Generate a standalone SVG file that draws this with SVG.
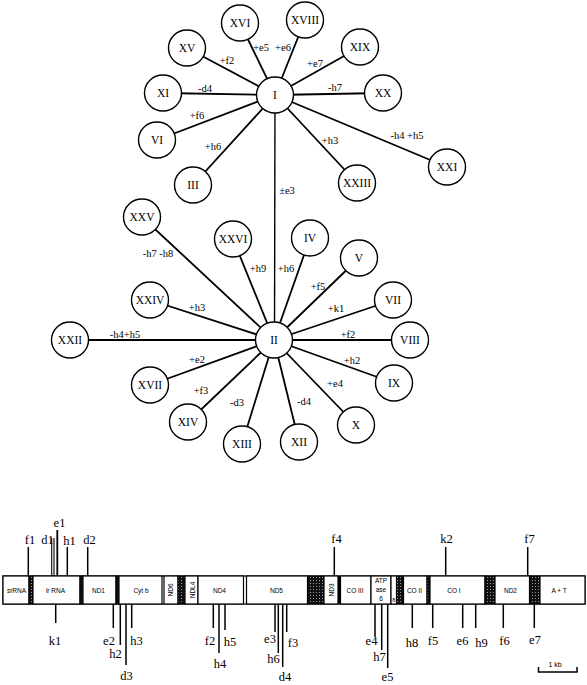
<svg xmlns="http://www.w3.org/2000/svg" width="587" height="685" viewBox="0 0 587 685">
<style>
.edge{stroke:#000;stroke-width:1.8;fill:none}
.node ellipse{fill:#fff;stroke:#000;stroke-width:1.4}
.nl{font-family:"Liberation Serif",serif;font-size:11.5px;text-anchor:middle;fill:#000}
.el{font-family:"Liberation Serif",serif;font-size:10.5px;text-anchor:middle;fill:#000}
.box{fill:#fff;stroke:#000;stroke-width:1.2}
.band{fill:url(#stip);stroke:#000;stroke-width:1}
.gl{font-family:"Liberation Sans",sans-serif;font-size:6.5px;text-anchor:middle;fill:#000}
.tick{stroke:#000;stroke-width:1.5}
.tl{font-family:"Liberation Serif",serif;font-size:12.5px;text-anchor:middle;fill:#000}
</style>
<defs>
<pattern id="stip" width="3" height="3" patternUnits="userSpaceOnUse">
<rect width="3" height="3" fill="#111"/>
<rect x="1" y="1" width="0.9" height="0.9" fill="#bbb"/>
</pattern>
</defs>
<g id="connectors">
<line class="edge" x1="275" y1="95" x2="240" y2="23"/>
<line class="edge" x1="275" y1="95" x2="305" y2="20"/>
<line class="edge" x1="275" y1="95" x2="187" y2="48"/>
<line class="edge" x1="275" y1="95" x2="360" y2="47"/>
<line class="edge" x1="275" y1="95" x2="163" y2="93"/>
<line class="edge" x1="275" y1="95" x2="383" y2="93"/>
<line class="edge" x1="275" y1="95" x2="157" y2="140"/>
<line class="edge" x1="275" y1="95" x2="193" y2="185"/>
<line class="edge" x1="275" y1="95" x2="357" y2="183"/>
<line class="edge" x1="275" y1="95" x2="447" y2="167"/>
<line class="edge" x1="275" y1="95" x2="274.5" y2="340" style="stroke-width:1.4"/>
<line class="edge" x1="274" y1="340" x2="142" y2="217"/>
<line class="edge" x1="274" y1="340" x2="233" y2="239"/>
<line class="edge" x1="274" y1="340" x2="310" y2="238"/>
<line class="edge" x1="274" y1="340" x2="359" y2="258"/>
<line class="edge" x1="274" y1="340" x2="393" y2="300"/>
<line class="edge" x1="274" y1="340" x2="150" y2="300"/>
<line class="edge" x1="274" y1="340" x2="70" y2="340"/>
<line class="edge" x1="274" y1="340" x2="410" y2="340"/>
<line class="edge" x1="274" y1="340" x2="394" y2="383"/>
<line class="edge" x1="274" y1="340" x2="150" y2="385"/>
<line class="edge" x1="274" y1="340" x2="188" y2="422"/>
<line class="edge" x1="274" y1="340" x2="356" y2="425"/>
<line class="edge" x1="274" y1="340" x2="242" y2="444"/>
<line class="edge" x1="274" y1="340" x2="299" y2="442"/>
</g>
<g id="edge-labels">
<text class="el" x="227" y="64">+f2</text>
<text class="el" x="261" y="50.5">+e5</text>
<text class="el" x="283" y="50.5">+e6</text>
<text class="el" x="315" y="67">+e7</text>
<text class="el" x="205" y="92">-d4</text>
<text class="el" x="335" y="91">-h7</text>
<text class="el" x="197" y="119">+f6</text>
<text class="el" x="213" y="149.5">+h6</text>
<text class="el" x="330" y="144">+h3</text>
<text class="el" x="407" y="139">-h4 +h5</text>
<text class="el" x="287" y="194">±e3</text>
<text class="el" x="158" y="257">-h7 -h8</text>
<text class="el" x="258" y="271.5">+h9</text>
<text class="el" x="286" y="271.5">+h6</text>
<text class="el" x="318" y="290">+f5</text>
<text class="el" x="336" y="312">+k1</text>
<text class="el" x="197" y="310.5">+h3</text>
<text class="el" x="125" y="338">-h4+h5</text>
<text class="el" x="348" y="338">+f2</text>
<text class="el" x="352" y="364">+h2</text>
<text class="el" x="197" y="363">+e2</text>
<text class="el" x="335" y="386.5">+e4</text>
<text class="el" x="201" y="394">+f3</text>
<text class="el" x="237" y="406">-d3</text>
<text class="el" x="304" y="404.5">-d4</text>
</g>
<g id="node-I" class="node"><ellipse cx="275" cy="95" rx="18.5" ry="18"/><text class="nl" x="275" y="99">I</text></g>
<g id="node-XVI" class="node"><ellipse cx="240" cy="23" rx="18.5" ry="18"/><text class="nl" x="240" y="27">XVI</text></g>
<g id="node-XVIII" class="node"><ellipse cx="305" cy="20" rx="18.5" ry="18"/><text class="nl" x="305" y="24">XVIII</text></g>
<g id="node-XV" class="node"><ellipse cx="187" cy="48" rx="18.5" ry="18"/><text class="nl" x="187" y="52">XV</text></g>
<g id="node-XIX" class="node"><ellipse cx="360" cy="47" rx="18.5" ry="18"/><text class="nl" x="360" y="51">XIX</text></g>
<g id="node-XI" class="node"><ellipse cx="163" cy="93" rx="18.5" ry="18"/><text class="nl" x="163" y="97">XI</text></g>
<g id="node-XX" class="node"><ellipse cx="383" cy="93" rx="18.5" ry="18"/><text class="nl" x="383" y="97">XX</text></g>
<g id="node-VI" class="node"><ellipse cx="157" cy="140" rx="18.5" ry="18"/><text class="nl" x="157" y="144">VI</text></g>
<g id="node-III" class="node"><ellipse cx="193" cy="185" rx="18.5" ry="18"/><text class="nl" x="193" y="189">III</text></g>
<g id="node-XXIII" class="node"><ellipse cx="357" cy="183" rx="18.5" ry="18"/><text class="nl" x="357" y="187">XXIII</text></g>
<g id="node-XXI" class="node"><ellipse cx="447" cy="167" rx="18.5" ry="18"/><text class="nl" x="447" y="171">XXI</text></g>
<g id="node-II" class="node"><ellipse cx="274" cy="340" rx="18.5" ry="18"/><text class="nl" x="274" y="344">II</text></g>
<g id="node-XXV" class="node"><ellipse cx="142" cy="217" rx="18.5" ry="18"/><text class="nl" x="142" y="221">XXV</text></g>
<g id="node-XXVI" class="node"><ellipse cx="233" cy="239" rx="18.5" ry="18"/><text class="nl" x="233" y="243">XXVI</text></g>
<g id="node-IV" class="node"><ellipse cx="310" cy="238" rx="18.5" ry="18"/><text class="nl" x="310" y="242">IV</text></g>
<g id="node-V" class="node"><ellipse cx="359" cy="258" rx="18.5" ry="18"/><text class="nl" x="359" y="262">V</text></g>
<g id="node-VII" class="node"><ellipse cx="393" cy="300" rx="18.5" ry="18"/><text class="nl" x="393" y="304">VII</text></g>
<g id="node-XXIV" class="node"><ellipse cx="150" cy="300" rx="18.5" ry="18"/><text class="nl" x="150" y="304">XXIV</text></g>
<g id="node-XXII" class="node"><ellipse cx="70" cy="340" rx="18.5" ry="18"/><text class="nl" x="70" y="344">XXII</text></g>
<g id="node-VIII" class="node"><ellipse cx="410" cy="340" rx="18.5" ry="18"/><text class="nl" x="410" y="344">VIII</text></g>
<g id="node-IX" class="node"><ellipse cx="394" cy="383" rx="18.5" ry="18"/><text class="nl" x="394" y="387">IX</text></g>
<g id="node-XVII" class="node"><ellipse cx="150" cy="385" rx="18.5" ry="18"/><text class="nl" x="150" y="389">XVII</text></g>
<g id="node-XIV" class="node"><ellipse cx="188" cy="422" rx="18.5" ry="18"/><text class="nl" x="188" y="426">XIV</text></g>
<g id="node-X" class="node"><ellipse cx="356" cy="425" rx="18.5" ry="18"/><text class="nl" x="356" y="429">X</text></g>
<g id="node-XIII" class="node"><ellipse cx="242" cy="444" rx="18.5" ry="18"/><text class="nl" x="242" y="448">XIII</text></g>
<g id="node-XII" class="node"><ellipse cx="299" cy="442" rx="18.5" ry="18"/><text class="nl" x="299" y="446">XII</text></g>
<g id="gene-map">
<rect class="box" x="3" y="576" width="582" height="28"/>
<rect class="box" x="3" y="576" width="26" height="28"/>
<rect class="band" x="29" y="576" width="4" height="28"/>
<rect class="box" x="33" y="576" width="47" height="28"/>
<rect class="band" x="80" y="576" width="3" height="28"/>
<rect class="box" x="83" y="576" width="33" height="28"/>
<rect class="band" x="116" y="576" width="3" height="28"/>
<rect class="box" x="119" y="576" width="43" height="28"/>
<rect class="box" x="164" y="576" width="14" height="28"/>
<rect class="band" x="178" y="576" width="7" height="28"/>
<rect class="box" x="185" y="576" width="13" height="28"/>
<rect class="box" x="198" y="576" width="45.5" height="28"/>
<rect class="box" x="246.5" y="576" width="61" height="28"/>
<rect class="band" x="307.5" y="576" width="16.5" height="28"/>
<rect class="box" x="324" y="576" width="14" height="28"/>
<rect x="338" y="576" width="2.5" height="28" fill="#000"/>
<rect class="box" x="340.5" y="576" width="30.5" height="28"/>
<rect class="box" x="371" y="576" width="20" height="28"/>
<rect class="box" x="391" y="576" width="5.5" height="28"/>
<rect class="band" x="396.5" y="576" width="7" height="28"/>
<rect class="box" x="403.5" y="576" width="23.5" height="28"/>
<rect class="band" x="427" y="576" width="3" height="28"/>
<rect class="box" x="430" y="576" width="55" height="28"/>
<rect class="band" x="485" y="576" width="10" height="28"/>
<rect class="box" x="495" y="576" width="34.5" height="28"/>
<rect class="band" x="529.5" y="576" width="10.5" height="28"/>
<rect class="box" x="540" y="576" width="45" height="28"/>
<text class="gl" x="16.5" y="592.5">srRNA</text>
<text class="gl" x="55.5" y="592.5">lr RNA</text>
<text class="gl" x="98.5" y="592.5">ND1</text>
<text class="gl" x="141" y="592.5">Cyt b</text>
<text class="gl" transform="translate(170.5,590) rotate(-90)" y="2.3">ND6</text>
<text class="gl" transform="translate(192.5,590) rotate(-90)" y="2.3">NDL4</text>
<text class="gl" x="219.5" y="592.5">ND4</text>
<text class="gl" x="276.5" y="592.5">ND5</text>
<text class="gl" transform="translate(332,590) rotate(-90)" y="2.3">ND3</text>
<text class="gl" x="355" y="592.5">CO III</text>
<text class="gl" x="381" y="583">ATP</text>
<text class="gl" x="381" y="592">ase</text>
<text class="gl" x="381" y="601">6</text>
<text class="gl" x="393.8" y="601.5" style="font-size:5.5px">8</text>
<text class="gl" x="414.5" y="592.5">CO II</text>
<text class="gl" x="454" y="592.5">CO I</text>
<text class="gl" x="510.5" y="592.5">ND2</text>
<text class="gl" x="559" y="592.5">A + T</text>
</g>
<g id="sites">
<line class="tick" x1="28.3" y1="547" x2="28.3" y2="576"/>
<line class="tick" x1="51.7" y1="538" x2="51.7" y2="576" style="stroke-width:1.1"/>
<line class="tick" x1="54" y1="538" x2="54" y2="576" style="stroke-width:1.1"/>
<line class="tick" x1="57.3" y1="530" x2="57.3" y2="576" style="stroke-width:1.8"/>
<line class="tick" x1="67.3" y1="547" x2="67.3" y2="576"/>
<line class="tick" x1="87.7" y1="547" x2="87.7" y2="576"/>
<line class="tick" x1="334.3" y1="547" x2="334.3" y2="576"/>
<line class="tick" x1="445.7" y1="547" x2="445.7" y2="576"/>
<line class="tick" x1="527.7" y1="547" x2="527.7" y2="576"/>
<line class="tick" x1="55.7" y1="604" x2="55.7" y2="623"/>
<line class="tick" x1="113.3" y1="604" x2="113.3" y2="628"/>
<line class="tick" x1="120.3" y1="604" x2="120.3" y2="645"/>
<line class="tick" x1="126" y1="604" x2="126" y2="665"/>
<line class="tick" x1="131.7" y1="604" x2="131.7" y2="628"/>
<line class="tick" x1="213.3" y1="604" x2="213.3" y2="628"/>
<line class="tick" x1="219" y1="604" x2="219" y2="653"/>
<line class="tick" x1="225" y1="604" x2="225" y2="630"/>
<line class="tick" x1="275" y1="604" x2="275" y2="632"/>
<line class="tick" x1="278.3" y1="604" x2="278.3" y2="653"/>
<line class="tick" x1="282.7" y1="604" x2="282.7" y2="667"/>
<line class="tick" x1="286.7" y1="604" x2="286.7" y2="632"/>
<line class="tick" x1="375" y1="604" x2="375" y2="637"/>
<line class="tick" x1="381.7" y1="604" x2="381.7" y2="650"/>
<line class="tick" x1="387.7" y1="604" x2="387.7" y2="668"/>
<line class="tick" x1="412.3" y1="604" x2="412.3" y2="628"/>
<line class="tick" x1="432.7" y1="604" x2="432.7" y2="628"/>
<line class="tick" x1="462.7" y1="604" x2="462.7" y2="628"/>
<line class="tick" x1="475.7" y1="604" x2="475.7" y2="628"/>
<line class="tick" x1="503.3" y1="604" x2="503.3" y2="628"/>
<line class="tick" x1="534.3" y1="604" x2="534.3" y2="628"/>
<text class="tl" x="30" y="544">f1</text>
<text class="tl" x="47.5" y="544">d1</text>
<text class="tl" x="59.5" y="527">e1</text>
<text class="tl" x="69.5" y="545">h1</text>
<text class="tl" x="89.5" y="544">d2</text>
<text class="tl" x="336.5" y="543">f4</text>
<text class="tl" x="446.5" y="543">k2</text>
<text class="tl" x="529.5" y="543">f7</text>
<text class="tl" x="55" y="645">k1</text>
<text class="tl" x="109" y="645">e2</text>
<text class="tl" x="115.5" y="658">h2</text>
<text class="tl" x="126.5" y="680">d3</text>
<text class="tl" x="136.5" y="645">h3</text>
<text class="tl" x="210" y="645">f2</text>
<text class="tl" x="220" y="668">h4</text>
<text class="tl" x="230" y="646">h5</text>
<text class="tl" x="270" y="643">e3</text>
<text class="tl" x="273.5" y="663">h6</text>
<text class="tl" x="285" y="681">d4</text>
<text class="tl" x="293" y="647">f3</text>
<text class="tl" x="371.5" y="645">e4</text>
<text class="tl" x="379.5" y="661">h7</text>
<text class="tl" x="387.5" y="681">e5</text>
<text class="tl" x="412" y="647">h8</text>
<text class="tl" x="433" y="645">f5</text>
<text class="tl" x="462.5" y="645">e6</text>
<text class="tl" x="481.5" y="647">h9</text>
<text class="tl" x="504.5" y="645">f6</text>
<text class="tl" x="535" y="644">e7</text>
</g>
<g id="scale-bar">
<path d="M538.5,667 V672 H577 V667" fill="none" stroke="#000" stroke-width="1.5"/>
<text class="gl" x="555" y="667" style="font-size:7px">1 kb</text>
</g>
</svg>
